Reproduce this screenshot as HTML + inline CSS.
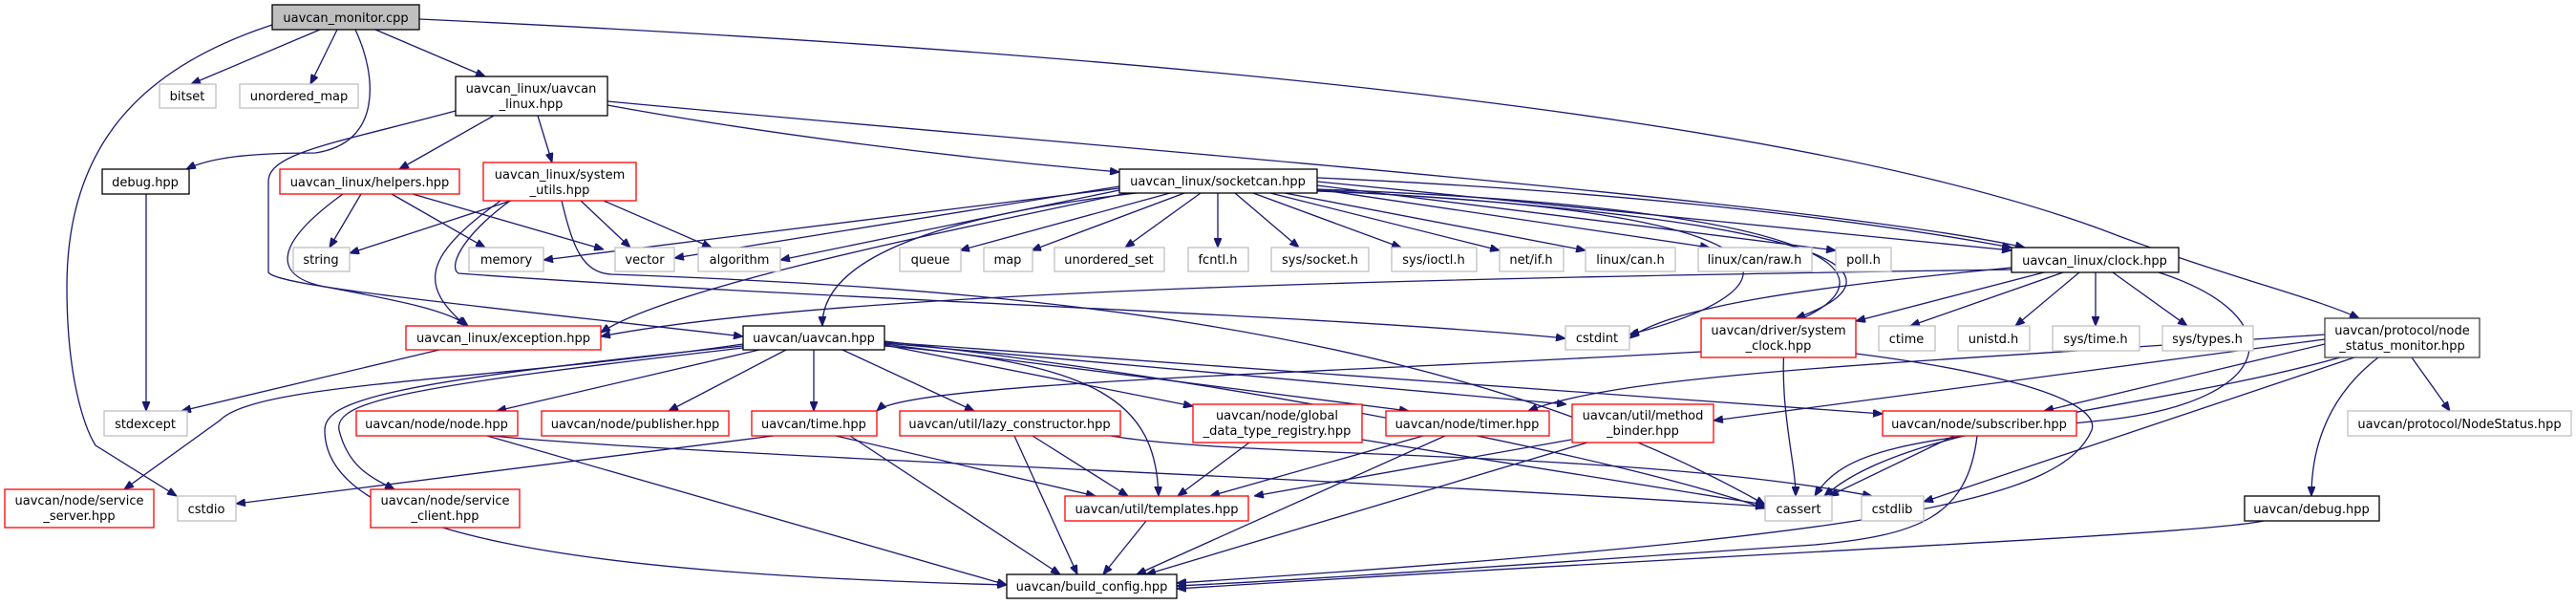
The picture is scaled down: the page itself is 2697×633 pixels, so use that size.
<!DOCTYPE html>
<html><head><meta charset="utf-8"><style>
html,body{margin:0;padding:0;background:#fff}
svg{display:block}
text{font-family:"DejaVu Sans","Liberation Sans",sans-serif;font-size:13px;text-anchor:middle;fill:#000}
.e{fill:none;stroke:#191970;stroke-width:1.3;marker-end:url(#a)}
.g{fill:#fff;stroke:#bfbfbf;stroke-width:1.3}
.r{fill:#fff;stroke:#ff0000;stroke-width:1.3}
.b{fill:#fff;stroke:#000;stroke-width:1.3}
</style></head><body>
<svg width="2697" height="633" viewBox="0 0 2697 633" xmlns="http://www.w3.org/2000/svg">
<defs><marker id="a" markerWidth="10" markerHeight="8" refX="10" refY="4" orient="auto" markerUnits="userSpaceOnUse"><path d="M0,0 L10,4 L0,8 z" fill="#191970" stroke="#191970"/></marker></defs>
<g>
<path class="e" d="M335,31 L200,88"/>
<path class="e" d="M353,31 L325,88"/>
<path class="e" d="M393,31 L508,80"/>
<path class="e" d="M372,31 C395,80 400,150 330,160 C260,160 220,165 195,177"/>
<path class="e" d="M285,26 C150,70 70,150 70,300 C70,400 90,450 100,466 L185,519"/>
<path class="e" d="M439,20 C1300,60 1900,130 2200,240 C2330,290 2420,310 2470,333"/>
<path class="e" d="M517,121 L418,177"/>
<path class="e" d="M563,121 L578,170"/>
<path class="e" d="M636,110 C800,140 1000,165 1172,180"/>
<path class="e" d="M636,106 C1100,150 1900,210 2120,259"/>
<path class="e" d="M477,116 C350,150 281,160 281,190 L281,285 C290,300 500,320 778,352"/>
<path class="e" d="M378,203 L345,259"/>
<path class="e" d="M410,203 L508,259"/>
<path class="e" d="M432,203 L632,261"/>
<path class="e" d="M359,203 C280,260 290,290 340,300 C420,315 470,325 490,341"/>
<path class="e" d="M535,210 L366,265"/>
<path class="e" d="M608,210 L660,259"/>
<path class="e" d="M632,210 L745,259"/>
<path class="e" d="M524,210 C440,270 440,300 488,341"/>
<path class="e" d="M534,210 C480,250 470,280 480,286 C800,310 1400,330 1639,354"/>
<path class="e" d="M588,210 C600,260 610,285 640,287 C1000,300 1500,330 1848,528"/>
<path class="e" d="M1225,202 L1005,262"/>
<path class="e" d="M1240,202 L1080,262"/>
<path class="e" d="M1257,202 L1178,259"/>
<path class="e" d="M1275,202 L1275,259"/>
<path class="e" d="M1293,202 L1360,259"/>
<path class="e" d="M1312,202 L1467,259"/>
<path class="e" d="M1330,202 L1570,262"/>
<path class="e" d="M1345,202 L1660,262"/>
<path class="e" d="M1379,198 L1790,259"/>
<path class="e" d="M1379,194 L1922,262"/>
<path class="e" d="M1379,190 L2106,262"/>
<path class="e" d="M1379,186 C1700,200 1950,230 2106,259"/>
<path class="e" d="M1172,195 L706,270"/>
<path class="e" d="M1172,197 L569,272"/>
<path class="e" d="M1172,199 L817,272"/>
<path class="e" d="M1180,202 C1000,240 700,300 629,348"/>
<path class="e" d="M1190,202 C950,230 860,280 861,341"/>
<path class="e" d="M1379,200 C1900,220 1900,300 1706,350"/>
<path class="e" d="M1379,198 C1980,220 1980,300 1870,340 C1860,420 1880,480 1880,519"/>
<path class="e" d="M1379,199 C1950,230 2000,290 1880,333"/>
<path class="e" d="M2106,280 C1900,300 1750,320 1706,354"/>
<path class="e" d="M2106,282 C1600,290 900,300 629,352"/>
<path class="e" d="M2160,285 L2000,341"/>
<path class="e" d="M2177,285 L2110,341"/>
<path class="e" d="M2194,285 L2194,341"/>
<path class="e" d="M2212,285 L2290,341"/>
<path class="e" d="M2140,285 L1943,336"/>
<path class="e" d="M2260,285 C2400,330 2390,420 2200,440 C2000,460 1930,470 1900,519"/>
<path class="e" d="M795,366 L520,430"/>
<path class="e" d="M823,366 L700,430"/>
<path class="e" d="M852,366 L852,430"/>
<path class="e" d="M882,366 L1020,430"/>
<path class="e" d="M926,361 L1249,425"/>
<path class="e" d="M926,360 L1475,430"/>
<path class="e" d="M926,359 L1640,423"/>
<path class="e" d="M926,358 L1971,433"/>
<path class="e" d="M926,357 C1300,400 1700,480 1848,532"/>
<path class="e" d="M926,362 C1150,380 1210,420 1213,519"/>
<path class="e" d="M778,362 C400,400 340,420 340,450 C340,560 600,600 1054,612"/>
<path class="e" d="M778,364 C420,405 350,420 355,450 C365,490 390,500 413,512"/>
<path class="e" d="M778,360 C500,400 270,400 230,440 L130,512"/>
<path class="e" d="M153,203 L153,430"/>
<path class="e" d="M460,366 L190,430"/>
<path class="e" d="M810,456 L247,527"/>
<path class="e" d="M875,456 L1147,519"/>
<path class="e" d="M890,456 L1110,601"/>
<path class="e" d="M510,456 L1054,612"/>
<path class="e" d="M515,456 C700,475 1400,500 1848,530"/>
<path class="e" d="M1081,456 L1181,519"/>
<path class="e" d="M1062,456 L1128,601"/>
<path class="e" d="M1163,456 C1300,480 1700,470 1960,519"/>
<path class="e" d="M1308,463 L1233,519"/>
<path class="e" d="M1426,460 L1848,528"/>
<path class="e" d="M1490,456 L1267,519"/>
<path class="e" d="M1513,456 L1190,601"/>
<path class="e" d="M1645,460 L1313,519"/>
<path class="e" d="M1662,463 L1200,601"/>
<path class="e" d="M1200,545 L1155,601"/>
<path class="e" d="M2046,456 L1915,519"/>
<path class="e" d="M2070,456 C2060,540 2010,560 1900,570 C1600,590 1400,605 1232,613"/>
<path class="e" d="M2370,545 C2300,560 1800,580 1232,616"/>
<path class="e" d="M1781,368 C1400,390 950,400 918,430"/>
<path class="e" d="M1943,370 C2100,390 2200,420 2190,450 C2160,520 2000,560 1232,610"/>
<path class="e" d="M2434,360 L2140,430"/>
<path class="e" d="M2434,350 C2000,380 1700,390 1600,430"/>
<path class="e" d="M2434,355 L1794,440"/>
<path class="e" d="M2450,374 C2250,430 2000,440 1910,519"/>
<path class="e" d="M2465,374 L2014,525"/>
<path class="e" d="M2490,374 C2430,420 2420,480 2420,519"/>
<path class="e" d="M2525,374 L2565,430"/>
</g>
<g>
<rect x="285" y="5" width="154" height="26" fill="#bfbfbf" stroke="#000" stroke-width="1.3"/><text x="362" y="23">uavcan_monitor.cpp</text>
<rect class="g" x="167" y="88" width="59" height="25"/><text x="196" y="105">bitset</text>
<rect class="g" x="251" y="88" width="124" height="25"/><text x="313" y="105">unordered_map</text>
<rect class="b" x="477" y="80" width="159" height="41"/><text x="556" y="97">uavcan_linux/uavcan</text><text x="556" y="113">_linux.hpp</text>
<rect class="b" x="107" y="177" width="91" height="26"/><text x="152" y="195">debug.hpp</text>
<rect class="r" x="293" y="177" width="188" height="26"/><text x="387" y="195">uavcan_linux/helpers.hpp</text>
<rect class="r" x="506" y="170" width="160" height="40"/><text x="586" y="187">uavcan_linux/system</text><text x="586" y="203">_utils.hpp</text>
<rect class="b" x="1172" y="177" width="207" height="25"/><text x="1275" y="194">uavcan_linux/socketcan.hpp</text>
<rect class="g" x="307" y="259" width="59" height="25"/><text x="336" y="276">string</text>
<rect class="g" x="491" y="259" width="78" height="25"/><text x="530" y="276">memory</text>
<rect class="g" x="644" y="259" width="62" height="25"/><text x="675" y="276">vector</text>
<rect class="g" x="731" y="259" width="86" height="25"/><text x="774" y="276">algorithm</text>
<rect class="g" x="942" y="259" width="64" height="25"/><text x="974" y="276">queue</text>
<rect class="g" x="1030" y="259" width="51" height="25"/><text x="1055" y="276">map</text>
<rect class="g" x="1104" y="259" width="115" height="25"/><text x="1161" y="276">unordered_set</text>
<rect class="g" x="1244" y="259" width="63" height="25"/><text x="1275" y="276">fcntl.h</text>
<rect class="g" x="1331" y="259" width="102" height="25"/><text x="1382" y="276">sys/socket.h</text>
<rect class="g" x="1457" y="259" width="89" height="25"/><text x="1501" y="276">sys/ioctl.h</text>
<rect class="g" x="1570" y="259" width="67" height="25"/><text x="1603" y="276">net/if.h</text>
<rect class="g" x="1660" y="259" width="94" height="25"/><text x="1707" y="276">linux/can.h</text>
<rect class="g" x="1778" y="259" width="119" height="25"/><text x="1837" y="276">linux/can/raw.h</text>
<rect class="g" x="1922" y="259" width="58" height="25"/><text x="1951" y="276">poll.h</text>
<rect class="b" x="2106" y="259" width="175" height="26"/><text x="2193" y="277">uavcan_linux/clock.hpp</text>
<rect class="r" x="425" y="341" width="204" height="25"/><text x="527" y="358">uavcan_linux/exception.hpp</text>
<rect class="b" x="778" y="341" width="148" height="25"/><text x="852" y="358">uavcan/uavcan.hpp</text>
<rect class="g" x="1639" y="341" width="67" height="25"/><text x="1672" y="358">cstdint</text>
<rect class="r" x="1781" y="333" width="162" height="41"/><text x="1862" y="350">uavcan/driver/system</text><text x="1862" y="366">_clock.hpp</text>
<rect class="g" x="1967" y="341" width="59" height="26"/><text x="1996" y="359">ctime</text>
<rect class="g" x="2050" y="341" width="75" height="26"/><text x="2087" y="359">unistd.h</text>
<rect class="g" x="2149" y="341" width="91" height="26"/><text x="2194" y="359">sys/time.h</text>
<rect class="g" x="2264" y="341" width="95" height="26"/><text x="2311" y="359">sys/types.h</text>
<rect x="2434" y="333" width="162" height="41" fill="#fff" stroke="#404040" stroke-width="1.3"/><text x="2515" y="350">uavcan/protocol/node</text><text x="2515" y="366">_status_monitor.hpp</text>
<rect class="g" x="109" y="430" width="87" height="26"/><text x="152" y="448">stdexcept</text>
<rect class="r" x="373" y="430" width="169" height="26"/><text x="457" y="448">uavcan/node/node.hpp</text>
<rect class="r" x="567" y="430" width="196" height="26"/><text x="665" y="448">uavcan/node/publisher.hpp</text>
<rect class="r" x="787" y="430" width="131" height="26"/><text x="852" y="448">uavcan/time.hpp</text>
<rect class="r" x="942" y="430" width="231" height="26"/><text x="1057" y="448">uavcan/util/lazy_constructor.hpp</text>
<rect class="r" x="1249" y="423" width="177" height="40"/><text x="1337" y="439">uavcan/node/global</text><text x="1337" y="455">_data_type_registry.hpp</text>
<rect class="r" x="1451" y="430" width="171" height="26"/><text x="1536" y="448">uavcan/node/timer.hpp</text>
<rect class="r" x="1646" y="423" width="148" height="40"/><text x="1720" y="439">uavcan/util/method</text><text x="1720" y="455">_binder.hpp</text>
<rect class="r" x="1971" y="430" width="203" height="26"/><text x="2072" y="448">uavcan/node/subscriber.hpp</text>
<rect class="g" x="2458" y="430" width="234" height="26"/><text x="2575" y="448">uavcan/protocol/NodeStatus.hpp</text>
<rect class="r" x="5" y="512" width="156" height="40"/><text x="83" y="528">uavcan/node/service</text><text x="83" y="544">_server.hpp</text>
<rect class="g" x="186" y="519" width="61" height="26"/><text x="216" y="537">cstdio</text>
<rect class="r" x="388" y="512" width="156" height="40"/><text x="466" y="528">uavcan/node/service</text><text x="466" y="544">_client.hpp</text>
<rect class="r" x="1115" y="519" width="192" height="26"/><text x="1211" y="537">uavcan/util/templates.hpp</text>
<rect class="g" x="1848" y="519" width="70" height="26"/><text x="1883" y="537">cassert</text>
<rect class="g" x="1949" y="519" width="65" height="26"/><text x="1981" y="537">cstdlib</text>
<rect class="b" x="2350" y="519" width="141" height="26"/><text x="2420" y="537">uavcan/debug.hpp</text>
<rect class="b" x="1054" y="601" width="178" height="25"/><text x="1143" y="618">uavcan/build_config.hpp</text>
</g>
</svg>
</body></html>
